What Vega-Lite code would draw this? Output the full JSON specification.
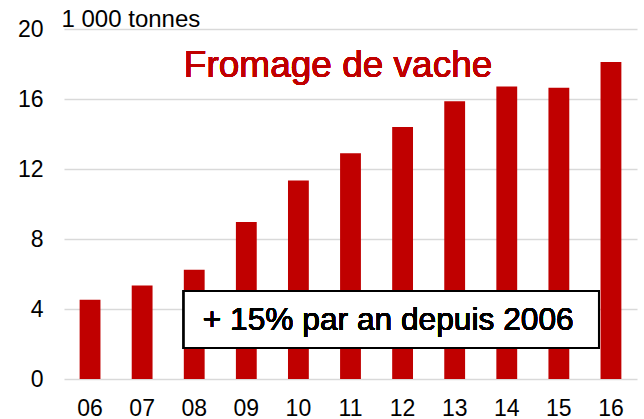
{
  "$schema": "https://vega.github.io/schema/vega-lite/v6.json",
  "width": 573,
  "height": 350,
  "autosize": {"type": "none"},
  "padding": {"left": 64, "top": 29, "right": 7, "bottom": 40},
  "background": "white",
  "config": {
    "font": "Liberation Sans",
    "view": {"stroke": null}
  },
  "data": {
    "values": [
      {"annee": "06", "production": 4.53},
      {"annee": "07", "production": 5.35},
      {"annee": "08", "production": 6.25},
      {"annee": "09", "production": 8.97},
      {"annee": "10", "production": 11.35},
      {"annee": "11", "production": 12.9},
      {"annee": "12", "production": 14.4},
      {"annee": "13", "production": 15.87},
      {"annee": "14", "production": 16.72},
      {"annee": "15", "production": 16.65},
      {"annee": "16", "production": 18.11}
    ]
  },
  "encoding": {
    "x": {
      "field": "annee",
      "type": "nominal",
      "sort": null,
      "scale": {"paddingInner": 0.6, "paddingOuter": 0.3},
      "axis": {
        "title": null,
        "labelAngle": 0,
        "labelFontSize": 23,
        "labelFontWeight": "normal",
        "labelColor": "black",
        "labelBaseline": "alphabetic",
        "labelPadding": 36,
        "ticks": false,
        "domain": false,
        "grid": false
      }
    }
  },
  "layer": [
    {
      "mark": {"type": "bar", "color": "#c00000"},
      "encoding": {
        "y": {
          "field": "production",
          "type": "quantitative",
          "scale": {"domain": [0, 20], "nice": false},
          "axis": {
            "values": [0, 4, 8, 12, 16, 20],
            "title": "1 000 tonnes",
            "titleAngle": 0,
            "titleAlign": "left",
            "titleBaseline": "alphabetic",
            "titleX": -3,
            "titleY": -3,
            "titleFont": "Liberation Sans",
            "titleFontSize": 24,
            "titleFontWeight": "normal",
            "titleColor": "black",
            "labelFontSize": 23,
            "labelFontWeight": "normal",
            "labelColor": "black",
            "labelPadding": 21,
            "ticks": false,
            "domain": false,
            "grid": true,
            "gridColor": "#d9d9d9",
            "gridWidth": 1.5
          }
        }
      }
    },
    {
      "mark": {"type": "text", "align": "left", "baseline": "alphabetic", "fontSize": 37, "fontWeight": "normal", "color": "#c00000"},
      "encoding": {
        "x": {"datum": "08", "bandPosition": 0},
        "y": {"datum": 17.26},
        "text": {"value": "Fromage de vache"}
      }
    },
    {
      "mark": {"type": "rect", "fill": "white", "stroke": "black", "strokeWidth": 2, "x2Offset": -12},
      "encoding": {
        "x": {"datum": "08", "bandPosition": 0},
        "x2": {"datum": "16"},
        "y": {"datum": 1.77},
        "y2": {"datum": 5.03}
      }
    },
    {
      "mark": {"type": "text", "align": "left", "baseline": "middle", "fontSize": 31.7, "fontWeight": "normal", "color": "black", "dx": 19},
      "encoding": {
        "x": {"datum": "08", "bandPosition": 0},
        "y": {"datum": 3.4},
        "text": {"value": "+ 15% par an depuis 2006"}
      }
    }
  ]
}
